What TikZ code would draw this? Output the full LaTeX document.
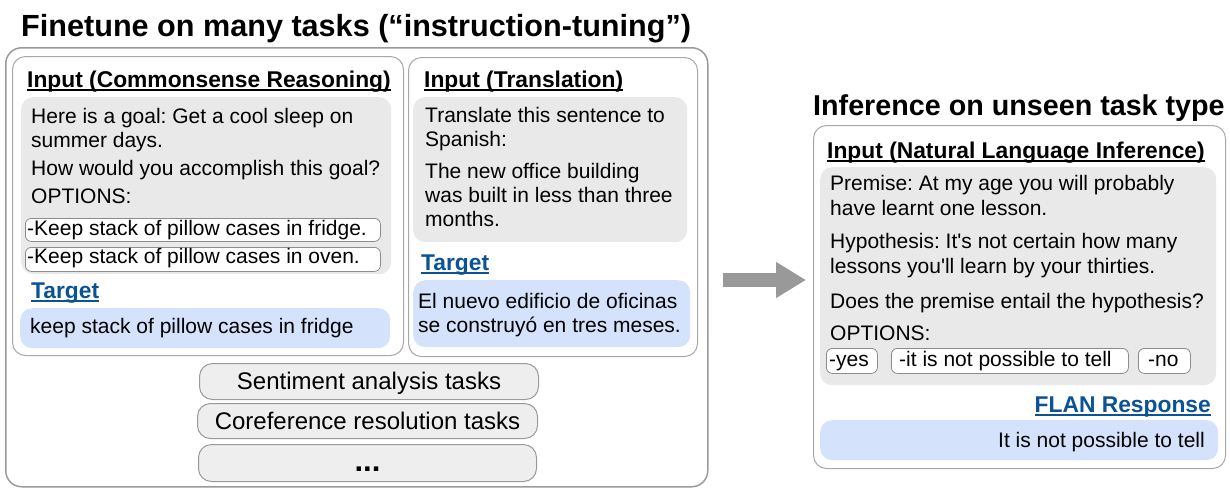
\documentclass[tikz,border=0pt]{standalone}
\usepackage{fontspec}
\setmainfont{Liberation Sans}[Ligatures=TeXOff]
\usetikzlibrary{arrows.meta}
\frenchspacing
\definecolor{framegray}{HTML}{9A9A9A}
\definecolor{panelgray}{HTML}{A8A8A8}
\definecolor{optgray}{HTML}{8C8C8C}
\definecolor{boxfill}{HTML}{E9E9E9}
\definecolor{taskfill}{HTML}{EEEEEE}
\definecolor{targetfill}{HTML}{D5E2FB}
\definecolor{targetblue}{HTML}{0B5394}
\definecolor{arrowgray}{HTML}{999999}
\tikzset{
  outerframe/.style={draw=framegray, line width=1.5pt, rounded corners=16pt},
  panel/.style={draw=panelgray, line width=1pt, rounded corners=13pt},
  inputbox/.style={fill=boxfill, rounded corners=12pt},
  targetbox/.style={fill=targetfill, rounded corners=12pt},
  optbox/.style={draw=optgray, fill=white, line width=0.8pt, rounded corners=6pt},
  taskbox/.style={draw=framegray, fill=taskfill, line width=1pt, rounded corners=13pt},
  txt/.style={inner sep=0pt, anchor=base west, font=\fontsize{21}{24}\selectfont},
  rtxt/.style={inner sep=0pt, anchor=base east, font=\fontsize{21}{24}\selectfont},
  ctxt/.style={inner sep=0pt, anchor=base, font=\fontsize{24}{28}\selectfont},
  head/.style={inner sep=0pt, anchor=base west, font=\fontsize{22.8}{26}\selectfont\bfseries},
  tgt/.style={inner sep=0pt, font=\fontsize{22.8}{26}\selectfont\bfseries, text=targetblue},
  title/.style={inner sep=0pt, anchor=base west, font=\bfseries},
  bigarrow/.style={draw=arrowgray, line width=14pt, -{Triangle[length=30pt,width=34pt]}},
}
% boxed region placed by its top-left corner
\newcommand{\rbox}[4]{%
  \node[#1, anchor=north west, minimum width=#3, minimum height=#4, inner sep=0pt] (#2)}
% heavier underline for section headings
\newcommand{\hul}[1]{\leavevmode\setbox0\hbox{#1}\rlap{\copy0}\rule[-4pt]{\wd0}{1.8pt}}
\begin{document}
\begin{tikzpicture}[x=1pt, y=-1pt]
\useasboundingbox (0,0) rectangle (1230,488);

% ---- left half: training tasks ----
\node[title, font=\fontsize{30.6}{34}\selectfont\bfseries] (ttl) at (21,36) {Finetune on many tasks (“instruction-tuning”)};
\rbox{outerframe}{outer}{702pt}{439pt} at (5,47) {};

% commonsense reasoning panel
\rbox{panel}{csp}{391pt}{299pt} at (12,56) {};
\node[head] (cshead) at (27,87) {\hul{Input (Commonsense Reasoning)}};
\rbox{inputbox}{csin}{370pt}{177pt} at (21,97) {};
\node[txt] (cs1) at (31,123) {Here is a goal: Get a cool sleep on};
\node[txt] (cs2) at (31,147) {summer days.};
\node[txt] (cs3) at (31,175) {How would you accomplish this goal?};
\node[txt] (cs4) at (31,203) {OPTIONS:};
\rbox{optbox}{cso1}{355pt}{23pt} at (25,218) {};
\node[txt] (cso1t) at (27,235) {-Keep stack of pillow cases in fridge.};
\rbox{optbox}{cso2}{355pt}{24pt} at (25,247) {};
\node[txt] (cso2t) at (27,263) {-Keep stack of pillow cases in oven.};
\node[tgt, anchor=base west] (cstg) at (31,298) {\hul{Target}};
\rbox{targetbox}{csout}{370pt}{40pt} at (20,308) {};
\node[txt] (csoutt) at (30,333) {keep stack of pillow cases in fridge};

% translation panel
\rbox{panel}{trp}{289pt}{299pt} at (408,57) {};
\node[head] (trhead) at (424,87) {\hul{Input (Translation)}};
\rbox{inputbox}{trin}{274pt}{145pt} at (413,97) {};
\node[txt] (tr1) at (425,122) {Translate this sentence to};
\node[txt] (tr2) at (425,146) {Spanish:};
\node[txt] (tr3) at (425,178) {The new office building};
\node[txt] (tr4) at (425,202) {was built in less than three};
\node[txt] (tr5) at (425,226) {months.};
\node[tgt, anchor=base west] (trtg) at (421,270) {\hul{Target}};
\rbox{targetbox}{trout}{277pt}{67pt} at (413,280) {};
\node[txt] (trout1) at (418,308) {El nuevo edificio de oficinas};
\node[txt] (trout2) at (418,332) {se construyó en tres meses.};

% other task clusters
\rbox{taskbox}{sent}{339pt}{36pt} at (199,363) {};
\node[ctxt] (sentt) at (sent.center |- 0,389) {Sentiment analysis tasks};
\rbox{taskbox}{coref}{340pt}{35pt} at (197,403) {};
\node[ctxt] (coreft) at (coref.center |- 0,429) {Coreference resolution tasks};
\rbox{taskbox}{more}{338pt}{37pt} at (198,444) {};
\node[ctxt, font=\fontsize{31}{34}\selectfont\bfseries] (moret) at (more.center |- 0,471) {...};

% ---- transfer arrow ----
\coordinate (arrfrom) at (723,280);
\coordinate (arrto) at (806,280);
\draw[bigarrow] (arrfrom) -- (arrto);

% ---- right half: unseen task ----
\node[title, font=\fontsize{28.7}{32}\selectfont\bfseries] (ttr) at (813,115) {Inference on unseen task type};
\rbox{panel}{nlip}{412pt}{343pt} at (813,125) {};
\node[head] (nlihead) at (827,158) {\hul{Input (Natural Language Inference)}};
\rbox{inputbox}{nliin}{396pt}{218pt} at (820,167) {};
\node[txt] (nl1) at (830,190) {Premise: At my age you will probably};
\node[txt] (nl2) at (830,215) {have learnt one lesson.};
\node[txt] (nl3) at (830,248) {Hypothesis: It's not certain how many};
\node[txt] (nl4) at (830,273) {lessons you'll learn by your thirties.};
\node[txt] (nl5) at (830,308) {Does the premise entail the hypothesis?};
\node[txt] (nl6) at (830,340) {OPTIONS:};
\rbox{optbox}{nlo1}{51pt}{25pt} at (826,348) {};
\node[txt] (nlo1t) at (829,366) {-yes};
\rbox{optbox}{nlo2}{237pt}{25pt} at (891,348) {};
\node[txt] (nlo2t) at (899,366) {-it is not possible to tell};
\rbox{optbox}{nlo3}{52pt}{25pt} at (1138,348) {};
\node[txt] (nlo3t) at (1148,366) {-no};
\node[tgt, anchor=base east] (flan) at (1211,412) {\hul{FLAN Response}};
\rbox{targetbox}{nliout}{398pt}{40pt} at (820,420) {};
\node[rtxt] (nlioutt) at (1205,447) {It is not possible to tell};
\end{tikzpicture}
\end{document}
